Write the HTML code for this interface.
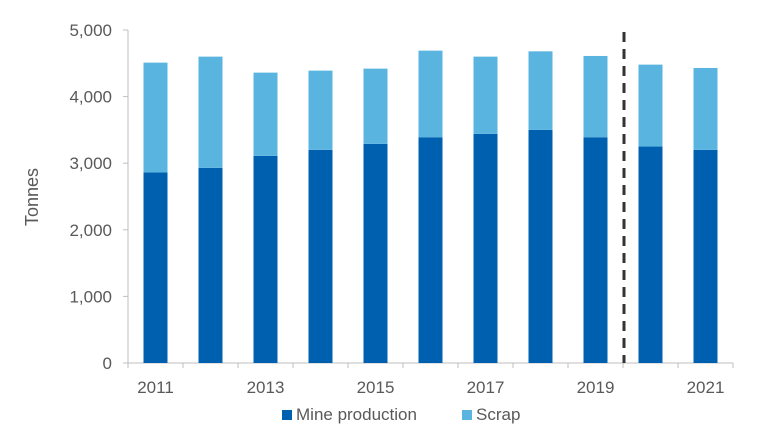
<!DOCTYPE html>
<html><head><meta charset="utf-8"><style>
body{margin:0;background:#fff;}
svg text{font-family:"Liberation Sans",sans-serif;fill:#595959;}
</style></head><body>
<svg width="776" height="438">
<g id="axes"></g><g id="bars"></g>
<line x1="624" y1="32" x2="624" y2="363" stroke="#333" stroke-width="3" stroke-dasharray="10,7"/>
<text x="38" y="197" font-size="18" text-anchor="middle" transform="rotate(-90 38 197)">Tonnes</text>
<g>
<rect x="282" y="410" width="10" height="10" fill="#0060b0"/>
<text x="296" y="420" font-size="17">Mine production</text>
<rect x="462" y="410" width="10" height="10" fill="#5ab4e0"/>
<text x="476" y="420" font-size="17">Scrap</text>
</g>
</svg>
<script>
const years=["2011","2012","2013","2014","2015","2016","2017","2018","2019","2020","2021"];
const xLabels=["2011","","2013","","2015","","2017","","2019","","2021"];
const mine=[2860,2930,3110,3200,3290,3390,3440,3500,3390,3250,3200];
const scrap=[1650,1670,1250,1190,1130,1300,1160,1180,1220,1230,1230];
const yTicks=[0,1000,2000,3000,4000,5000];
const NS="http://www.w3.org/2000/svg";
const x0=128,x1=733,y0=363,yTop=30,yMax=5000;
const step=(x1-x0)/years.length, bw=24;
const y=v=>y0-(v/yMax)*(y0-yTop);
const cx=i=>x0+step*(i+0.5);
function mk(t,a,p){const e=document.createElementNS(NS,t);for(const k in a)e.setAttribute(k,a[k]);p.appendChild(e);return e;}
const ax=document.getElementById('axes'),bars=document.getElementById('bars');
let l=mk('line',{x1:x0,y1:yTop,x2:x0,y2:y0,stroke:'#bfbfbf'},ax);


l=mk('line',{x1:x0,y1:y0,x2:x1,y2:y0,stroke:'#bfbfbf'},ax);


yTicks.forEach(v=>{
 const t=mk('line',{x1:x0-5,y1:y(v),x2:x0,y2:y(v),stroke:'#bfbfbf'},ax);
 
 
 const tx=mk('text',{x:112,y:y(v)+6,'font-size':17,'text-anchor':'end'},ax);
 tx.textContent=v.toLocaleString('en-US');
 
 
});
for(let i=0;i<=years.length;i++){
 const t=mk('line',{x1:x0+step*i,y1:y0,x2:x0+step*i,y2:y0+5,stroke:'#bfbfbf'},ax);
 
 
}
years.forEach((yr,i)=>{
 const m=mk('rect',{x:cx(i)-bw/2,y:y(mine[i]),width:bw,height:y0-y(mine[i]),fill:'#0060b0'},bars);
 
 
 const s=mk('rect',{x:cx(i)-bw/2,y:y(mine[i]+scrap[i]),width:bw,height:y(mine[i])-y(mine[i]+scrap[i]),fill:'#5ab4e0'},bars);
 
 
 if(xLabels[i]){
  const tx=mk('text',{x:cx(i),y:393,'font-size':17,'text-anchor':'middle'},ax);
  tx.textContent=xLabels[i];
  
  
 }
});
</script>
</body></html>
